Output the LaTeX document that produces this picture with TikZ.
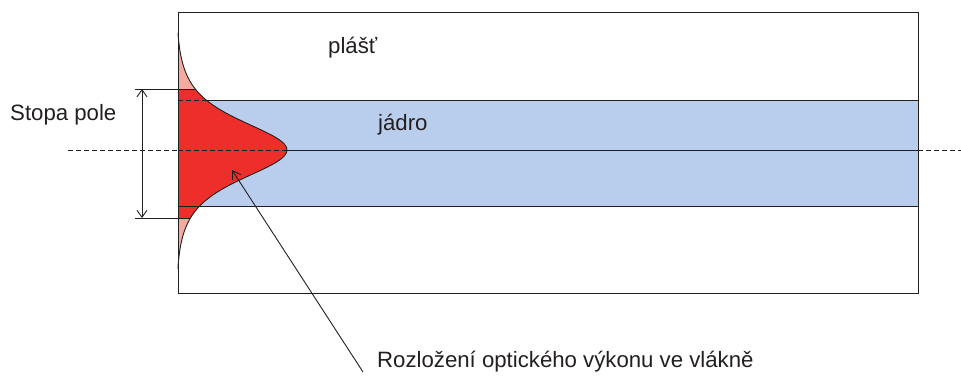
\documentclass[tikz,border=0pt]{standalone}
\usepackage{fontspec}
\setmainfont{Liberation Sans}
\usetikzlibrary{arrows.meta}
\definecolor{coreblue}{RGB}{185,206,236}
\definecolor{modered}{RGB}{237,46,42}
\definecolor{tailpink}{RGB}{245,170,160}
\definecolor{ink}{RGB}{35,31,32}
\tikzset{barbtip/.tip={Straight Barb[length=7pt,width=10pt]},
  leadtipshape/.tip={Straight Barb[length=8pt,width=10pt]}}
\begin{document}
\begin{tikzpicture}[x=1pt,y=-1pt,
  declare function={prof(\t)=max(0,96.4/(cosh(\t/36))^2+14*exp(-(\t/70)^2)-1.43);},
  ln/.style={draw=ink,line width=0.9pt},
  axisdash/.style={ln,dash pattern=on 5pt off 3pt},
  lbl/.style={inner sep=0pt,anchor=base west,text=ink,font=\fontsize{22.2}{25}\selectfont}]
\useasboundingbox (0,0) rectangle (961,378);
% fills
\fill[coreblue] (178,100) rectangle (918,206);
\fill[tailpink] (178,33) -- plot[domain=-117:-61,samples=40] ({178+prof(\x)},{150+\x}) -- (178,89) -- cycle;
\fill[modered] (178,89) -- plot[domain=-61:68,samples=100] ({178+prof(\x)},{150+\x}) -- (178,218) -- cycle;
\fill[tailpink] (178,218) -- plot[domain=68:119,samples=40] ({178+prof(\x)},{150+\x}) -- (178,269) -- cycle;
% coordinates
\coordinate (peak) at (287,150);
\coordinate (topcross) at ({178+prof(-50)},100);
\coordinate (ticktopL) at (135,89);
\coordinate (ticktopR) at ({178+prof(-61)},89);
\coordinate (tickbotL) at (135,218);
\coordinate (tickbotR) at ({178+prof(68)},218);
\coordinate (arrtop) at (142,89);
\coordinate (arrbot) at (142,218);
\coordinate (leadtip) at (232,170);
\coordinate (leadfoot) at (363,372);
% cladding rectangle
\draw[ln] (178,12) rectangle (918,293);
% core boundaries
\draw[axisdash] (178,100) -- (topcross);
\draw[ln] (topcross) -- (918,100);
\draw[ln] (178,206) -- (918,206);
% axis
\draw[axisdash] (68,150) -- (178,150);
\draw[axisdash] (178,150) -- (peak);
\draw[ln] (peak) -- (918,150);
\draw[axisdash] (918,150) -- (961,150);
% profile outline
\draw[ln] plot[domain=-117:119,samples=160] ({178+prof(\x)},{150+\x});
% mode field diameter
\draw[ln] (ticktopL) -- (ticktopR);
\draw[ln] (tickbotL) -- (tickbotR);
\draw[ln,barbtip-barbtip] (arrtop) -- (arrbot);
% leader
\draw[ln,-leadtipshape] (leadfoot) -- (leadtip);
% labels
\node[lbl] (stopa) at (10,120.7) {Stopa pole};
\node[lbl] (plast) at (328,53) {plášť};
\node[lbl] (jadro) at (378,130) {jádro};
\node[lbl] (rozlozeni) at (377,367) {Rozložení optického výkonu ve vlákně};
\end{tikzpicture}
\end{document}
